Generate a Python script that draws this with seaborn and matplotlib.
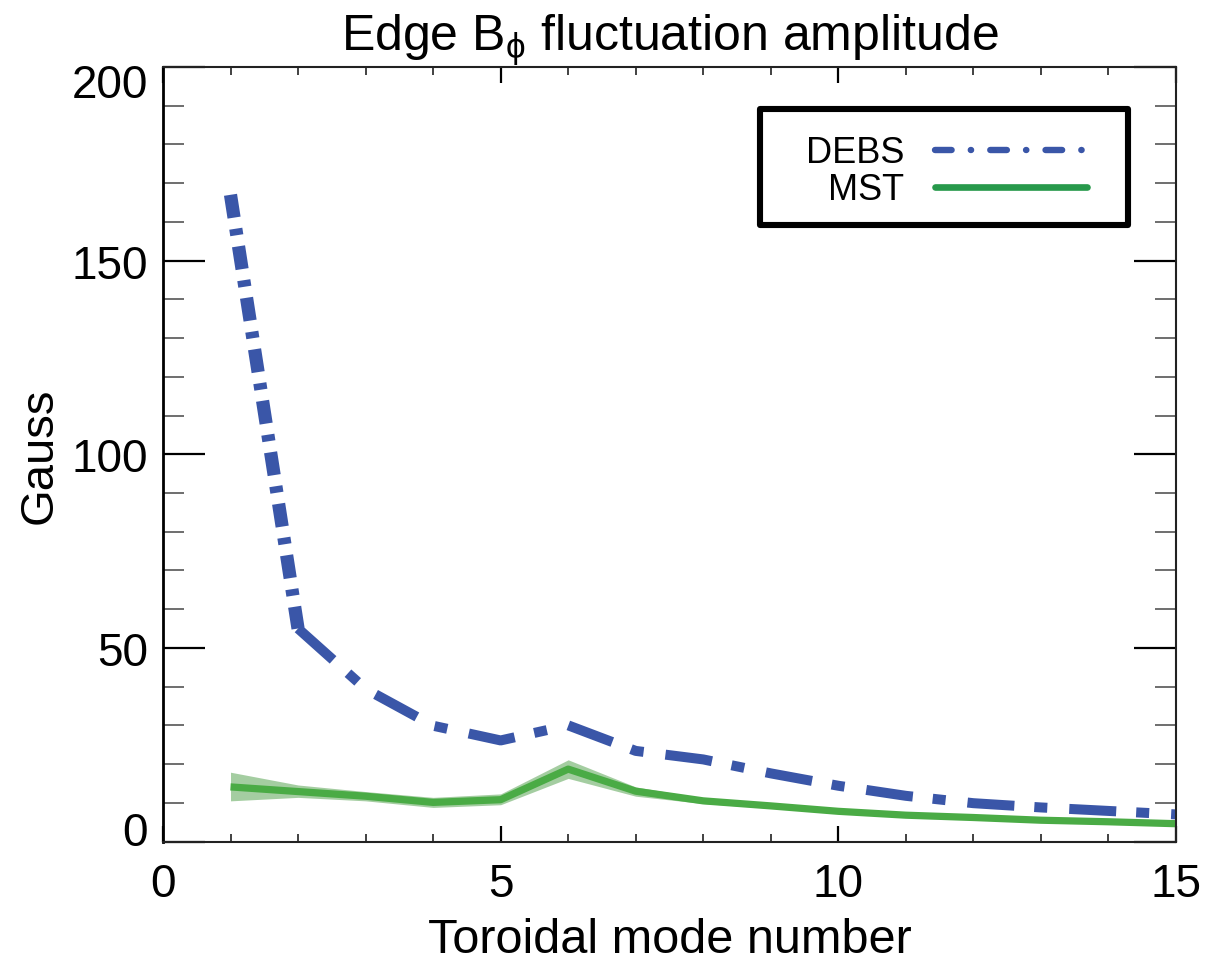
import matplotlib
matplotlib.use("Agg")
import matplotlib.pyplot as plt
import matplotlib.transforms as mtransforms
from matplotlib.lines import Line2D
from matplotlib.patches import Rectangle
from matplotlib.ticker import MultipleLocator
import numpy as np
import pandas as pd
import seaborn as sns

# ---- data ----
modes = [1, 2, 3, 4, 5, 6, 7, 8, 9, 10, 11, 12, 13, 14, 15]
debs = [167, 55, 39.4, 29.9, 26.1, 30.0, 23.4, 21.2, 17.6, 14.4, 11.8, 9.9, 8.8, 7.9, 7.0]
mst = [14.1, 12.9, 11.7, 10.1, 10.8, 18.7, 13.0, 10.5, 9.2, 7.8, 6.8, 6.2, 5.5, 5.1, 4.6]
mst_low = [10.5, 11.4, 10.5, 8.8, 9.5, 16.3, 11.7, 9.8, 8.6, 7.3, 6.4, 5.8, 5.1, 4.7, 4.2]
mst_high = [17.9, 14.6, 12.9, 11.4, 12.3, 21.1, 14.1, 11.2, 9.8, 8.3, 7.2, 6.6, 5.9, 5.5, 5.0]
title = "Edge B$_\\mathrm{\\phi}$ fluctuation amplitude"
xlabel = "Toroidal mode number"
ylabel = "Gauss"
labels = ["DEBS", "MST"]

df = pd.DataFrame({"mode": modes, "DEBS": debs, "MST": mst})

sns.set_style("ticks")
plt.rcParams["font.family"] = ["Liberation Sans", "DejaVu Sans"]
plt.rcParams["mathtext.fontset"] = "custom"
plt.rcParams["mathtext.rm"] = "Liberation Sans"
plt.rcParams["mathtext.it"] = "Liberation Sans:italic"
plt.rcParams["mathtext.sf"] = "Liberation Sans"
for k in ["text.color", "axes.labelcolor", "xtick.color", "ytick.color",
          "xtick.labelcolor", "ytick.labelcolor", "axes.titlecolor"]:
    plt.rcParams[k] = "black"

blue = "#3a56a8"
green = "#4aab45"
green_leg = "#27994b"

fig = plt.figure(figsize=(12.09, 9.62), dpi=100)
ax = fig.add_axes([0.1348, 0.1242, 0.9727 - 0.1348, 0.9293 - 0.1242])

ax.fill_between(modes, mst_low, mst_high, color="#5aa554", alpha=0.55, lw=0)
sns.lineplot(data=df, x="mode", y="MST", color=green, lw=5.2, ax=ax,
             legend=False, solid_capstyle="butt")
# steep first segment (drawn with the tighter dash rhythm seen in the reference)
sns.lineplot(data=df.iloc[0:2], x="mode", y="DEBS", color=blue, lw=9.5, ax=ax,
             legend=False, linestyle=(0, (1.75, 0.85, 0.5, 0.85)),
             dash_capstyle="butt")
sns.lineplot(data=df.iloc[1:], x="mode", y="DEBS", color=blue, lw=7.2, ax=ax,
             legend=False, linestyle=(0, (4.7, 2.0, 1.3, 2.2)),
             dash_capstyle="butt")

ax.set_xlim(0, 15)
ax.set_ylim(0, 200)
ax.set_xticks([0, 5, 10, 15])
ax.set_yticks([0, 50, 100, 150, 200])
ax.xaxis.set_minor_locator(MultipleLocator(1))
ax.yaxis.set_minor_locator(MultipleLocator(10))

ax.tick_params(axis="both", which="both", direction="in", top=True, right=True)
ax.tick_params(axis="x", which="major", length=11.5, width=1.6, labelsize=33, pad=15, color="black")
ax.tick_params(axis="x", which="minor", length=5.5, width=1.3, color="#333333")
ax.tick_params(axis="y", which="major", length=30, width=1.6, labelsize=33, pad=11, color="black")
ax.tick_params(axis="y", which="minor", length=15, width=1.2, color="#555555")

for s in ax.spines.values():
    s.set_linewidth(1.5)
    s.set_color("#222222")
ax.spines["left"].set_color("black")
ax.spines["left"].set_linewidth(2)

ax.set_title(title, fontsize=36, pad=10)
ax.set_xlabel(xlabel, fontsize=35, labelpad=8)
ax.set_ylabel(ylabel, fontsize=34, labelpad=7)

# IDL-style: keep the extreme y labels inside the axis range
yt = ax.yaxis.get_major_ticks()
yt[0].label1.set_transform(yt[0].label1.get_transform() +
                           mtransforms.ScaledTranslation(0, 0.14, fig.dpi_scale_trans))
yt[-1].label1.set_transform(yt[-1].label1.get_transform() +
                            mtransforms.ScaledTranslation(0, -0.13, fig.dpi_scale_trans))

handles = [
    Line2D([0], [0], color=blue, lw=4.6, linestyle=(0, (2.6, 3.0, 0.05, 3.0)),
           dash_capstyle="round"),
    Line2D([0], [0], color=green_leg, lw=4.8, solid_capstyle="round"),
]
leg = ax.legend(handles, labels, loc="upper right", bbox_to_anchor=(0.912, 0.912),
                borderaxespad=0, borderpad=0, fontsize=26, markerfirst=False,
                handlelength=4.2, handletextpad=0.85, labelspacing=0.06,
                frameon=False)
# thick legend frame as in the reference
ax.add_patch(Rectangle((0.5893, 0.796), 0.9526 - 0.5893, 0.9458 - 0.796,
                       transform=ax.transAxes, fill=False, lw=4.4,
                       edgecolor="black", joinstyle="round", zorder=5))

fig.savefig("out.png", dpi=100)
